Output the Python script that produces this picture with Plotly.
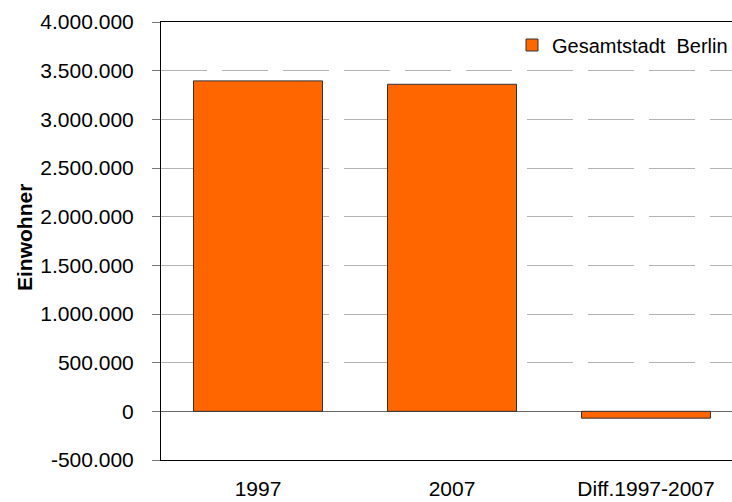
import plotly.graph_objects as go

categories = ["1997", "2007", "Diff.1997-2007"]
einwohner = [3395000, 3360000, -70000]
series_name = "Gesamtstadt  Berlin"
y_tick_values = [-500000, 0, 500000, 1000000, 1500000, 2000000, 2500000, 3000000, 3500000, 4000000]
y_tick_labels = ["-500.000", "0", "500.000", "1.000.000", "1.500.000", "2.000.000",
                 "2.500.000", "3.000.000", "3.500.000", "4.000.000"]
category_boundaries = [0.5, 1.5]

FONT = "Liberation Sans, Arial, sans-serif"

L, T, B, R = 161, 22, 42, 0
W, H = 732, 502
plot_w = W - L - R
plot_h = H - T - B
x_hi = -0.5 + plot_w / 194.0

fig = go.Figure()
fig.add_trace(go.Bar(
    x=categories, y=einwohner, name=series_name, width=0.665,
    marker=dict(color="#FF6600", line=dict(color="#333333", width=1)),
    showlegend=True,
))

y_min, y_max = -500000, 4000000
fig.update_layout(
    width=W, height=H,
    margin=dict(l=L, r=R, t=T, b=B, autoexpand=False),
    paper_bgcolor="white", plot_bgcolor="white",
    font=dict(family=FONT, color="black", size=20),
    showlegend=True,
    legend=dict(x=(512 - L) / plot_w, xanchor="left", y=(460 - 45) / plot_h, yanchor="middle",
                font=dict(size=20, family=FONT), bgcolor="rgba(0,0,0,0)",
                borderwidth=0),
    xaxis=dict(type="category", range=[-0.5, x_hi], showgrid=False,
               showline=True, linecolor="black", linewidth=1, mirror=True,
               ticks="", tickfont=dict(size=21), ticklabelstandoff=10),
    xaxis2=dict(overlaying="x", anchor="free", position=(0 - y_min) / (y_max - y_min),
                type="linear", range=[-0.5, x_hi], tickvals=category_boundaries,
                ticks="outside", ticklen=6, tickcolor="#444444", tickwidth=1,
                showticklabels=False, showline=False, showgrid=False, zeroline=False),
    yaxis=dict(range=[y_min, y_max], tickvals=y_tick_values, ticktext=y_tick_labels,
               showgrid=True, gridcolor="#b3b3b3", gridwidth=1, griddash="46px,15px",
               zeroline=True, zerolinecolor="#666666", zerolinewidth=1,
               showline=True, linecolor="black", linewidth=1,
               ticks="outside", ticklen=8, tickcolor="#777777", tickwidth=1,
               tickfont=dict(size=21), ticklabelstandoff=14),
    annotations=[dict(text="<b>Einwohner</b>", textangle=-90, xref="paper", yref="paper",
                      x=(24 - L) / plot_w, y=(460 - 238) / plot_h, xanchor="center", yanchor="middle",
                      showarrow=False, font=dict(size=21, family=FONT))],
)

fig.write_html("out.html", config={"displayModeBar": False},
               post_script="document.body.style.margin='0';document.body.style.overflow='hidden';")
